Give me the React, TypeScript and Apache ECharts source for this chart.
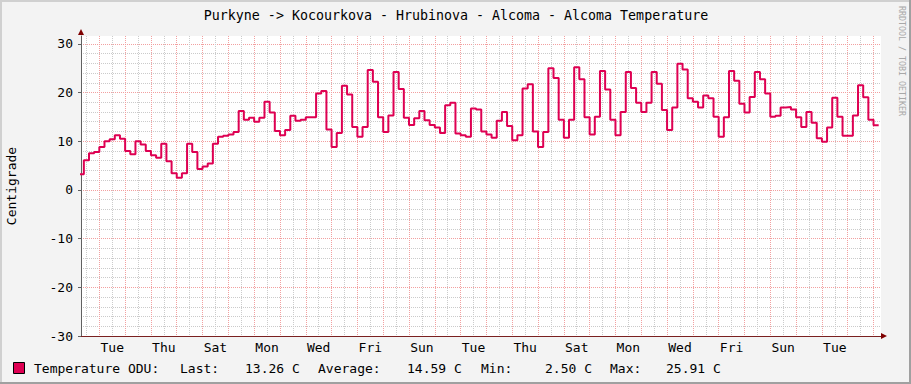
import React, { useEffect, useRef } from 'react';
import * as echarts from 'echarts';

const TITLE = 'Purkyne -> Kocourkova - Hrubinova - Alcoma - Alcoma Temperature';
const Y_NAME = 'Centigrade';
const SERIES_NAME = 'Temperature ODU:';
const WATERMARK = 'RRDTOOL / TOBI OETIKER';

// x axis: days relative to the first Tuesday 00:00 shown
const X_MIN = -0.71;
const X_MAX = 30.29;
const T0 = -0.8; // start of first sample
const STEP_DAYS = 0.2; // sample length

const temps = [
  3.2, 6.1, 7.5, 7.8, 8.8, 10.0, 10.4, 11.2, 10.5, 8.0,
  7.3, 10.0, 9.3, 8.0, 7.1, 6.6, 9.5, 5.9, 3.4, 2.5,
  3.4, 9.5, 7.8, 4.3, 4.8, 5.4, 9.5, 10.9, 11.1, 11.4,
  11.9, 16.2, 14.4, 14.8, 14.0, 14.8, 18.1, 15.9, 12.1, 11.2,
  12.3, 15.2, 14.2, 14.4, 14.9, 14.9, 19.8, 20.3, 12.4, 8.8,
  11.7, 21.4, 19.6, 12.9, 10.9, 12.9, 24.6, 22.2, 14.9, 11.9,
  15.3, 24.2, 20.7, 14.8, 13.3, 14.7, 16.2, 14.3, 13.3, 12.8,
  11.7, 17.4, 17.9, 11.6, 11.2, 10.9, 16.7, 16.5, 12.0, 11.4,
  10.7, 14.2, 16.0, 13.1, 10.2, 11.2, 20.8, 21.7, 12.0, 8.8,
  11.9, 25.0, 23.0, 14.4, 10.7, 14.4, 25.2, 22.7, 14.9, 11.4,
  15.0, 24.4, 20.6, 14.4, 11.2, 16.0, 24.2, 20.9, 17.9, 16.0,
  17.9, 24.2, 21.8, 16.4, 12.3, 16.9, 25.91, 24.7, 18.8, 18.1,
  16.9, 19.4, 18.8, 15.0, 10.9, 14.9, 24.4, 22.4, 17.7, 15.9,
  19.1, 24.2, 22.7, 19.8, 15.0, 15.2, 16.9, 17.0, 16.5, 14.9,
  12.9, 16.0, 13.8, 10.6, 9.9, 12.8, 18.9, 15.0, 11.1, 11.1,
  15.3, 21.5, 19.0, 14.4, 13.26,
];

const dayLabels = ['Tue', 'Thu', 'Sat', 'Mon', 'Wed', 'Fri', 'Sun', 'Tue', 'Thu', 'Sat', 'Mon', 'Wed', 'Fri', 'Sun', 'Tue'];
const dayLabelPos = dayLabels.map((_, i) => i * 2 + 0.5); // noon, every 2 days
const yTicks = [-30, -20, -10, 0, 10, 20, 30];
const statLabels = ['Last:', 'Average:', 'Min:', 'Max:'];
const statValues = ['13.26 C', '14.59 C', '2.50 C', '25.91 C'];

const FONT = '"DejaVu Sans Mono", monospace';
const LINE_COLOR = '#DE0052';
const MAJOR = '#F2A0A0';
const MINOR = '#CBCBCB';

export default function App() {
  const ref = useRef<HTMLDivElement>(null);
  useEffect(() => {
    document.body.style.margin = '0';
    const chart = echarts.init(ref.current!, null, { renderer: 'svg' });

    const xGridTicks: number[] = [];
    for (let h = -1; h <= 60; h++) xGridTicks.push(h / 2);

    const points: number[][] = temps.map((v, i) => [T0 + i * STEP_DAYS, v]);
    points.push([T0 + temps.length * STEP_DAYS, temps[temps.length - 1]]);

    const labelX = [180, 318, 481, 610];
    const valueX = [245, 407, 545, 666];
    const legendTexts: any[] = [
      { type: 'text', x: 34, y: 368, style: { text: SERIES_NAME, font: `13px ${FONT}`, fill: '#000', verticalAlign: 'middle' } },
    ];
    statLabels.forEach((t, i) => {
      legendTexts.push({ type: 'text', x: labelX[i], y: 368, style: { text: t, font: `13px ${FONT}`, fill: '#000', verticalAlign: 'middle' } });
      legendTexts.push({ type: 'text', x: valueX[i], y: 368, style: { text: statValues[i], font: `13px ${FONT}`, fill: '#000', verticalAlign: 'middle' } });
    });

    const option: any = {
      animation: false,
      backgroundColor: '#F3F3F3',
      grid: {
        left: 81, top: 36, width: 800, height: 300, show: true, backgroundColor: '#FFFFFF', borderWidth: 0,
        containLabel: false, outerBoundsMode: 'none',
      },
      xAxis: {
        type: 'value',
        min: X_MIN,
        max: X_MAX,
        axisLine: { show: true, onZero: false, lineStyle: { color: '#7A2020', width: 1 } },
        axisTick: { show: false, customValues: xGridTicks },
        axisLabel: {
          customValues: dayLabelPos,
          formatter: (v: number) => dayLabels[Math.round((v - 0.5) / 2)] ?? '',
          color: '#000',
          fontFamily: FONT,
          fontSize: 13,
          margin: 5,
        },
        splitLine: { show: true, lineStyle: { color: [MINOR, MAJOR], type: [1, 1], width: 1 } },
      },
      yAxis: {
        type: 'value',
        min: -30,
        max: 31.6,
        interval: 10,
        name: Y_NAME,
        nameLocation: 'middle',
        nameRotate: 90,
        nameGap: 63,
        nameTextStyle: { color: '#000', fontFamily: FONT, fontSize: 13 },
        axisLine: { show: true, onZero: false, lineStyle: { color: '#606060', width: 1 } },
        axisTick: { show: true, length: 3, customValues: yTicks, lineStyle: { color: '#606060' } },
        axisLabel: { customValues: yTicks, color: '#000', fontFamily: FONT, fontSize: 13, margin: 8 },
        splitLine: { show: true, lineStyle: { color: MAJOR, type: [1, 1], width: 1 } },
        minorTick: { show: false, splitNumber: 5 },
        minorSplitLine: { show: true, lineStyle: { color: MINOR, type: [1, 1], width: 1 } },
      },
      series: [
        {
          type: 'line',
          name: SERIES_NAME,
          step: 'end',
          data: points,
          symbol: 'none',
          showSymbol: false,
          clip: true,
          z: 5,
          lineStyle: { color: LINE_COLOR, width: 2 },
        },
      ],
      graphic: [
        { type: 'rect', shape: { x: 0, y: 0, width: 911, height: 2 }, style: { fill: '#D0D0D0' }, silent: true },
        { type: 'rect', shape: { x: 0, y: 0, width: 2, height: 384 }, style: { fill: '#D0D0D0' }, silent: true },
        { type: 'rect', shape: { x: 0, y: 382, width: 911, height: 2 }, style: { fill: '#A0A0A0' }, silent: true },
        { type: 'rect', shape: { x: 909, y: 0, width: 2, height: 384 }, style: { fill: '#A0A0A0' }, silent: true },
        { type: 'text', x: 456, y: 15, style: { text: TITLE, font: `13.3px ${FONT}`, fill: '#000', align: 'center', verticalAlign: 'middle' } },
        { type: 'text', x: 902, y: 61, rotation: -Math.PI / 2, style: { text: WATERMARK, font: `8.3px ${FONT}`, fill: '#A8A8A8', align: 'center', verticalAlign: 'middle' } },
        { type: 'polygon', shape: { points: [[81, 29], [78, 35], [84, 35]] }, style: { fill: '#7F0000' }, silent: true },
        { type: 'polygon', shape: { points: [[887, 336], [881, 333], [881, 339]] }, style: { fill: '#7F0000' }, silent: true },
        { type: 'rect', shape: { x: 13.5, y: 362.5, width: 11, height: 11 }, style: { fill: LINE_COLOR, stroke: '#000', lineWidth: 1 } },
        ...legendTexts,
      ],
    };
    chart.setOption(option);
    return () => chart.dispose();
  }, []);
  return <div ref={ref} style={{ width: 911, height: 384, position: 'absolute', left: 0, top: 0 }} />;
}
